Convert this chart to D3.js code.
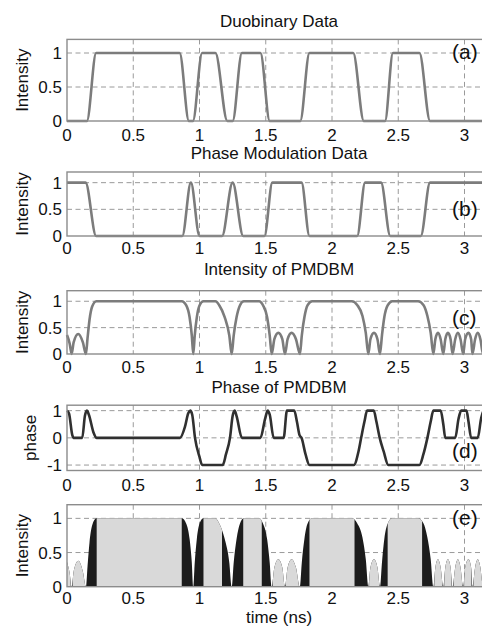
<!DOCTYPE html>
<html lang="en">
<head>
<meta charset="UTF-8" />
<title>PMDBM signals</title>
<script src="https://cdn.jsdelivr.net/npm/d3@7"></script>
<style>
body{margin:0;background:#fff}
svg{display:block;font-family:"Liberation Sans",Arial,Helvetica,sans-serif}
.grid{stroke:#9a9a9a;stroke-width:1;stroke-dasharray:5,3.5}
.frame{fill:none;stroke:#8c8c8c;stroke-width:1.4}
.tick{font-size:17px;fill:#111}
.title{font-size:17px;fill:#111;text-anchor:middle}
.tag{font-size:21px;fill:#111}
</style>
</head>
<body>
<svg id="chart" width="482" height="628"></svg>
<script>
/* ===== values (time in ns) ===== */
const xTicks=[0,0.5,1,1.5,2,2.5,3];
const intTicks=[0,0.5,1], phaseTicks=[-1,0,1];
const titles=['Duobinary Data','Phase Modulation Data','Intensity of PMDBM','Phase of PMDBM'];
const tags=['(a)','(b)','(c)','(d)','(e)'];

const duobinary=[[0,0],[0.15,0],[0.22,1],[0.85,1],[0.92,0],[0.95,0],[1.02,1],[1.12,1],[1.21,0],[1.25,0],
  [1.32,1],[1.46,1],[1.53,0],[1.76,0],[1.83,1],[2.16,1],[2.24,0],[2.40,0],[2.46,1],[2.66,1],[2.74,0],[3.2,0]];

const phaseData=[[0,1],[0.14,1],[0.22,0],[0.87,0],[0.935,1],[1.0,0],[1.17,0],[1.25,1],[1.33,0],[1.49,0],
  [1.55,1],[1.77,1],[1.83,0],[2.19,0],[2.25,1],[2.37,1],[2.44,0],[2.67,0],[2.74,1],[3.2,1]];

const pmdbmInt=[[0,0.36],[0.02,0.2],[0.035,0],[0.05,0.22],[0.085,0.38],[0.12,0.22],[0.143,0],
  [0.155,0.3],[0.17,0.65],[0.19,0.9],[0.222,1],[0.866,1],[0.9,0.92],[0.925,0.7],[0.942,0.35],[0.953,0],
  [0.964,0.35],[0.98,0.7],[1.0,0.92],[1.03,1],[1.12,1],[1.15,0.92],[1.19,0.7],[1.225,0.35],[1.243,0],
  [1.258,0.35],[1.28,0.7],[1.305,0.92],[1.335,1],[1.45,1],[1.48,0.92],[1.51,0.7],[1.53,0.35],[1.545,0],
  [1.565,0.28],[1.595,0.4],[1.625,0.28],[1.645,0],[1.665,0.28],[1.695,0.4],[1.728,0.28],[1.758,0],
  [1.772,0.35],[1.792,0.7],[1.815,0.92],[1.85,1],[2.15,1],[2.19,0.93],[2.23,0.72],[2.255,0.4],[2.274,0],
  [2.29,0.28],[2.317,0.4],[2.343,0.28],[2.362,0],[2.377,0.35],[2.395,0.7],[2.42,0.92],[2.455,1],
  [2.65,1],[2.69,0.93],[2.72,0.72],[2.745,0.4],[2.765,0],[2.78,0.28],[2.8,0.4],[2.82,0.28],[2.84,0],
  [2.855,0.28],[2.875,0.4],[2.895,0.28],[2.91,0],[2.93,0.28],[2.95,0.4],[2.97,0.28],[2.99,0],
  [3.005,0.28],[3.03,0.4],[3.05,0.28],[3.06,0],[3.08,0.28],[3.1,0.4],[3.12,0.28],[3.14,0],
  [3.16,0.28],[3.18,0.4],[3.2,0.3]];

const pmdbmPhase=[[0,1],[0.015,0.9],[0.04,0.1],[0.05,0],[0.115,0],[0.135,0.8],[0.15,1],[0.165,0.85],[0.2,0.2],[0.224,0],
  [0.853,0],[0.89,0.4],[0.915,0.9],[0.93,1],[0.945,0.85],[0.966,0],[1.0,-0.7],[1.02,-1],[1.175,-1],[1.2,-0.6],
  [1.23,0],[1.25,0.8],[1.265,1],[1.28,0.8],[1.32,0],[1.46,0],[1.495,0.7],[1.515,1],[1.53,0.85],[1.56,0],
  [1.635,0],[1.66,1],[1.715,1],[1.735,0.6],[1.755,0.1],[1.77,0],[1.8,-0.6],[1.83,-1],[2.165,-1],[2.2,-0.5],
  [2.22,0],[2.245,0.6],[2.265,1],[2.315,1],[2.335,0.6],[2.36,0],[2.39,-0.5],[2.425,-1],[2.66,-1],[2.69,-0.6],
  [2.72,0],[2.745,0.6],[2.765,1],[2.82,1],[2.84,0.5],[2.855,0],[2.93,0],[2.955,0.7],[2.975,1],[3.015,1],
  [3.03,0.6],[3.05,0],[3.1,0],[3.125,0.7],[3.145,1],[3.2,1]];

/* time spans of panel (e) drawn light grey, the rest of the envelope is dark */
const greyBands=[[0,0.028],[0.042,0.136],[0.224,0.866],[1.03,1.17],[1.33,1.47],[1.552,1.638],[1.652,1.75],
  [1.83,2.17],[2.28,2.355],[2.42,2.68],[2.772,2.833],[2.847,2.903],[2.917,2.983],[2.997,3.053],[3.067,3.133],[3.147,3.2]];

/* ===== layout ===== */
const svg=d3.select('#chart');
const x=d3.scaleLinear().domain([0,3.2]).range([67,491]);
const L=67,R=491;

function panel(o){
  const y=d3.scaleLinear().domain(o.dom).range([o.bottom,o.top]);
  const g=svg.append('g');
  g.selectAll('.vg').data(xTicks.slice(1)).join('line').attr('class','grid')
    .attr('x1',d=>x(d)).attr('x2',d=>x(d)).attr('y1',o.top).attr('y2',o.bottom);
  g.selectAll('.hg').data(o.ticks.filter(d=>d>o.dom[0])).join('line').attr('class','grid')
    .attr('x1',L).attr('x2',R).attr('y1',d=>y(d)).attr('y2',d=>y(d));
  g.selectAll('.yt').data(o.ticks).join('text').attr('class','tick').attr('text-anchor','end')
    .attr('x',62).attr('y',d=>y(d)+6).text(d=>d);
  g.selectAll('.xt').data(xTicks).join('text').attr('class','tick').attr('text-anchor','middle')
    .attr('x',d=>x(d)).attr('y',o.bottom+o.lab).text(d=>d);
  g.append('text').attr('class','title').attr('transform',`translate(${o.ylx},${(o.top+o.bottom)/2}) rotate(-90)`)
    .attr('font-size','17px').attr('text-anchor','middle').text(o.ylabel);
  return {g,y};
}
const line=(y)=>d3.line().x(d=>x(d[0])).y(d=>y(d[1])).curve(d3.curveMonotoneX);

const P=[
  {top:39.4,bottom:121,dom:[0,1.2],ticks:intTicks,lab:20,ylabel:'Intensity',ylx:28,title:27,tag:59},
  {top:172,bottom:236,dom:[0,1.2],ticks:intTicks,lab:17.5,ylabel:'Intensity',ylx:28,title:159,tag:216},
  {top:290.7,bottom:354,dom:[0,1.2],ticks:intTicks,lab:19,ylabel:'Intensity',ylx:28,title:275,tag:325},
  {top:405.2,bottom:470.5,dom:[-1.2,1.2],ticks:phaseTicks,lab:20.5,ylabel:'phase',ylx:35.5,title:393,tag:458},
  {top:504.7,bottom:586.7,dom:[0,1.2],ticks:intTicks,lab:17.5,ylabel:'Intensity',ylx:28,title:null,tag:525}
];
const series=[duobinary,phaseData,pmdbmInt,pmdbmPhase];
const colors=['#7c7c7c','#7c7c7c','#7c7c7c','#303030'];

P.forEach((o,i)=>{
  const {g,y}=panel(o);
  if(i<4){
    g.append('path').datum(series[i]).attr('fill','none').attr('stroke',colors[i])
      .attr('stroke-width',2.6).attr('stroke-linejoin','round').attr('d',line(y));
    svg.append('text').attr('class','title').attr('x',279).attr('y',o.title).text(titles[i]);
  }else{
    const area=d3.area().x(d=>x(d[0])).y0(y(0)).y1(d=>y(d[1])).curve(d3.curveMonotoneX);
    svg.append('clipPath').attr('id','greyClip').selectAll('rect').data(greyBands).join('rect')
      .attr('x',d=>x(d[0])).attr('width',d=>x(d[1])-x(d[0])).attr('y',o.top).attr('height',o.bottom-o.top);
    g.append('path').datum(pmdbmInt).attr('fill','#1c1c1c').attr('d',area);
    g.append('path').datum(pmdbmInt).attr('fill','#d9d9d9').attr('clip-path','url(#greyClip)').attr('d',area);
    svg.append('text').attr('class','title').attr('x',279).attr('y',623).text('time (ns)');
  }
  g.append('rect').attr('class','frame').attr('x',L).attr('y',o.top).attr('width',R-L).attr('height',o.bottom-o.top);
  svg.append('text').attr('class','tag').attr('x',452).attr('y',o.tag).text(tags[i]);
});
</script>
</body>
</html>
